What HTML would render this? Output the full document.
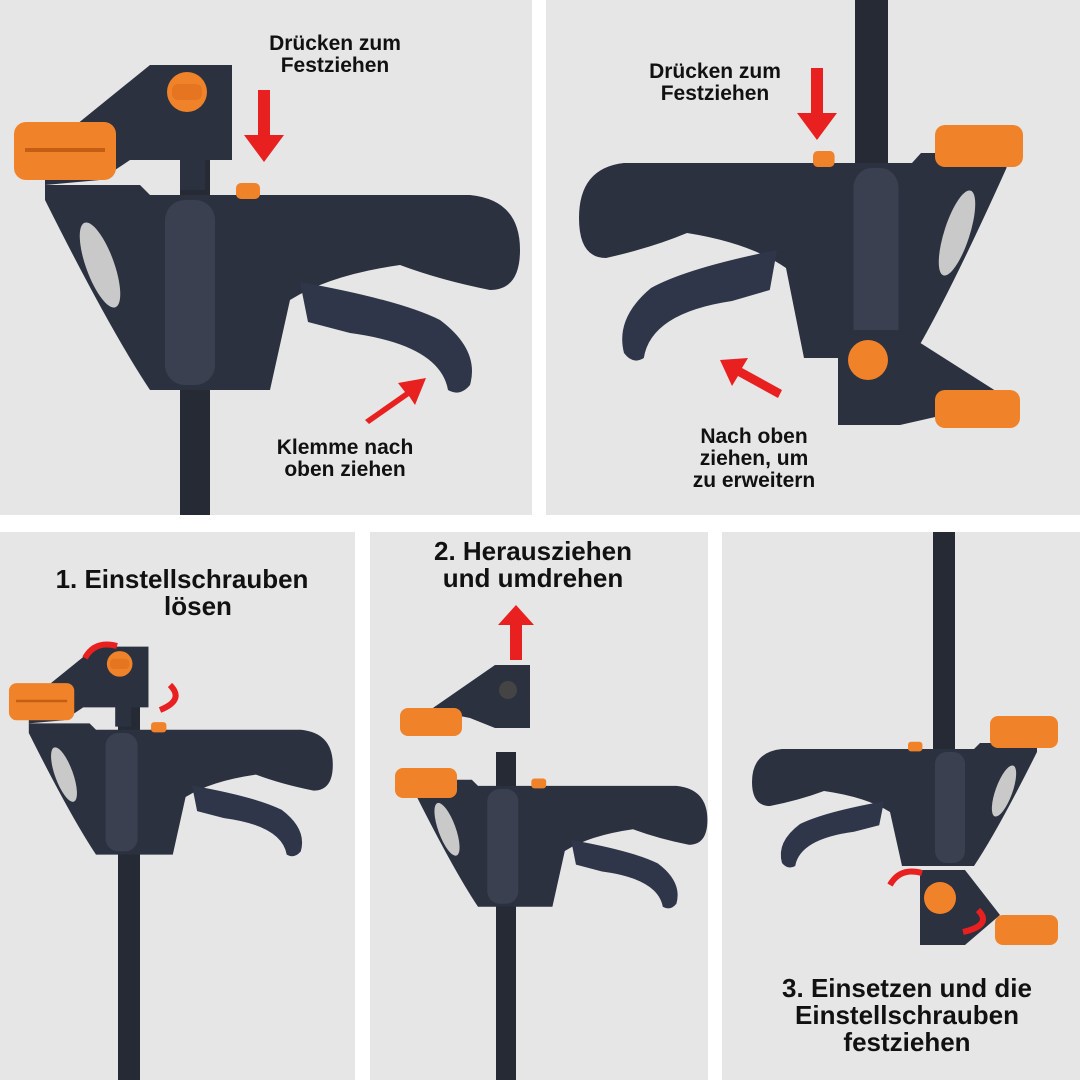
<!DOCTYPE html>
<html><head><meta charset="utf-8"><style>
html,body{margin:0;padding:0;background:#fff}
svg{display:block}
text{font-family:"Liberation Sans",sans-serif;font-weight:bold;fill:#111;text-anchor:middle}
</style></head><body>
<svg width="1080" height="1080" viewBox="0 0 1080 1080" xmlns="http://www.w3.org/2000/svg">
<defs>
<g id="body">
<path d="M45,185 L140,185 L150,195 L470,195 Q520,200 520,250 Q520,290 490,290 Q440,280 400,265 Q330,275 290,300 L270,390 L150,390 Q110,330 45,200 Z" fill="#2c3140"/>
<ellipse cx="100" cy="265" rx="14" ry="45" transform="rotate(-20 100 265)" fill="#c9c9c9"/>
<rect x="165" y="200" width="50" height="185" rx="20" fill="#3a4050"/>
<path d="M300,282 Q400,300 440,320 Q480,350 470,385 Q460,397 448,390 Q440,345 350,333 L308,322 Z" fill="#30364a"/>
<rect x="236" y="183" width="24" height="16" rx="5" fill="#f0832a"/>
</g>
<g id="head">
<path d="M45,150 L150,65 L232,65 L232,160 L205,160 L205,190 L180,190 L180,160 L130,160 L100,180 L45,185 Z" fill="#2c3140"/>
<circle cx="187" cy="92" r="20" fill="#f0832a"/>
<rect x="172" y="84" width="30" height="16" rx="6" fill="#e57520"/>
<rect x="14" y="122" width="102" height="58" rx="12" fill="#f0832a"/>
<path d="M25,150 h80" stroke="#c45e15" stroke-width="4"/>
</g>
</defs>
<rect x="0" y="0" width="532" height="515" fill="#e6e6e6"/>
<rect x="546" y="0" width="534" height="515" fill="#e6e6e6"/>
<rect x="0" y="532" width="355" height="548" fill="#e6e6e6"/>
<rect x="370" y="532" width="338" height="548" fill="#e6e6e6"/>
<rect x="722" y="532" width="358" height="548" fill="#e6e6e6"/>

<!-- top-left -->
<rect x="180" y="140" width="30" height="375" fill="#252a34"/>
<use href="#body"/>
<use href="#head"/>
<text x="335" y="50" font-size="21">Drücken zum</text>
<text x="335" y="72" font-size="21">Festziehen</text>
<path d="M258,90 h12 v45 h14 l-20,27 l-20,-27 h14 z" fill="#e82020"/>
<path d="M365,420 l40,-28 l-7,-9 l28,-5 l-11,27 l-6,-9 l-40,28 z" fill="#e82020"/>
<text x="345" y="454" font-size="21">Klemme nach</text>
<text x="345" y="476" font-size="21">oben ziehen</text>

<!-- top-right (mirrored) -->
<rect x="855" y="0" width="33" height="340" fill="#252a34"/>
<g transform="translate(1047,-32) scale(-0.9,1)">
<use href="#body"/>
</g>
<rect x="935" y="125" width="88" height="42" rx="10" fill="#f0832a"/>
<path d="M838,330 L900,330 L1010,400 L900,425 L838,425 Z" fill="#2c3140"/>
<circle cx="868" cy="360" r="20" fill="#f0832a"/>
<rect x="935" y="390" width="85" height="38" rx="10" fill="#f0832a"/>
<text x="715" y="78" font-size="21">Drücken zum</text>
<text x="715" y="100" font-size="21">Festziehen</text>
<path d="M811,68 h12 v45 h14 l-20,27 l-20,-27 h14 z" fill="#e82020"/>
<path d="M778,398 l-40,-22 l-6,10 l-12,-26 l28,-2 l-6,10 l40,22 z" fill="#e82020"/>
<text x="754" y="443" font-size="21">Nach oben</text>
<text x="754" y="465" font-size="21">ziehen, um</text>
<text x="754" y="487" font-size="21">zu erweitern</text>

<!-- bottom-left -->
<rect x="118" y="700" width="22" height="380" fill="#252a34"/>
<g transform="translate(0,605) scale(0.64)">
<use href="#body"/>
<use href="#head"/>
</g>
<text x="182" y="588" font-size="26">1. Einstellschrauben</text>
<text x="198" y="615" font-size="26">lösen</text>
<path d="M85,658 q10,-18 32,-12" stroke="#e82020" stroke-width="6" fill="none"/>
<path d="M170,685 q15,15 -10,25" stroke="#e82020" stroke-width="6" fill="none"/>

<!-- bottom-middle -->
<rect x="496" y="752" width="20" height="328" fill="#252a34"/>
<g transform="translate(385,665) scale(0.62)">
<use href="#body"/>
</g>
<path d="M430,710 L495,665 L530,665 L530,728 L495,728 L470,718 Z" fill="#2c3140"/>
<circle cx="508" cy="690" r="9" fill="#444"/>
<rect x="400" y="708" width="62" height="28" rx="8" fill="#f0832a"/>
<rect x="395" y="768" width="62" height="30" rx="8" fill="#f0832a"/>
<text x="533" y="560" font-size="26">2. Herausziehen</text>
<text x="533" y="587" font-size="26">und umdrehen</text>
<path d="M510,660 v-35 h-12 l18,-20 l18,20 h-12 v35 z" fill="#e82020"/>

<!-- bottom-right -->
<rect x="933" y="532" width="22" height="330" fill="#252a34"/>
<g transform="translate(1064,632) scale(-0.6,0.6)">
<use href="#body"/>
</g>
<rect x="990" y="716" width="68" height="32" rx="8" fill="#f0832a"/>
<path d="M920,870 L965,870 L1000,915 L965,945 L920,945 Z" fill="#2c3140"/>
<circle cx="940" cy="898" r="16" fill="#f0832a"/>
<rect x="995" y="915" width="63" height="30" rx="8" fill="#f0832a"/>
<path d="M890,885 q10,-18 32,-12" stroke="#e82020" stroke-width="6" fill="none"/>
<path d="M978,910 q15,15 -15,22" stroke="#e82020" stroke-width="6" fill="none"/>
<text x="907" y="997" font-size="26">3. Einsetzen und die</text>
<text x="907" y="1024" font-size="26">Einstellschrauben</text>
<text x="907" y="1051" font-size="26">festziehen</text>
</svg>
</body></html>
